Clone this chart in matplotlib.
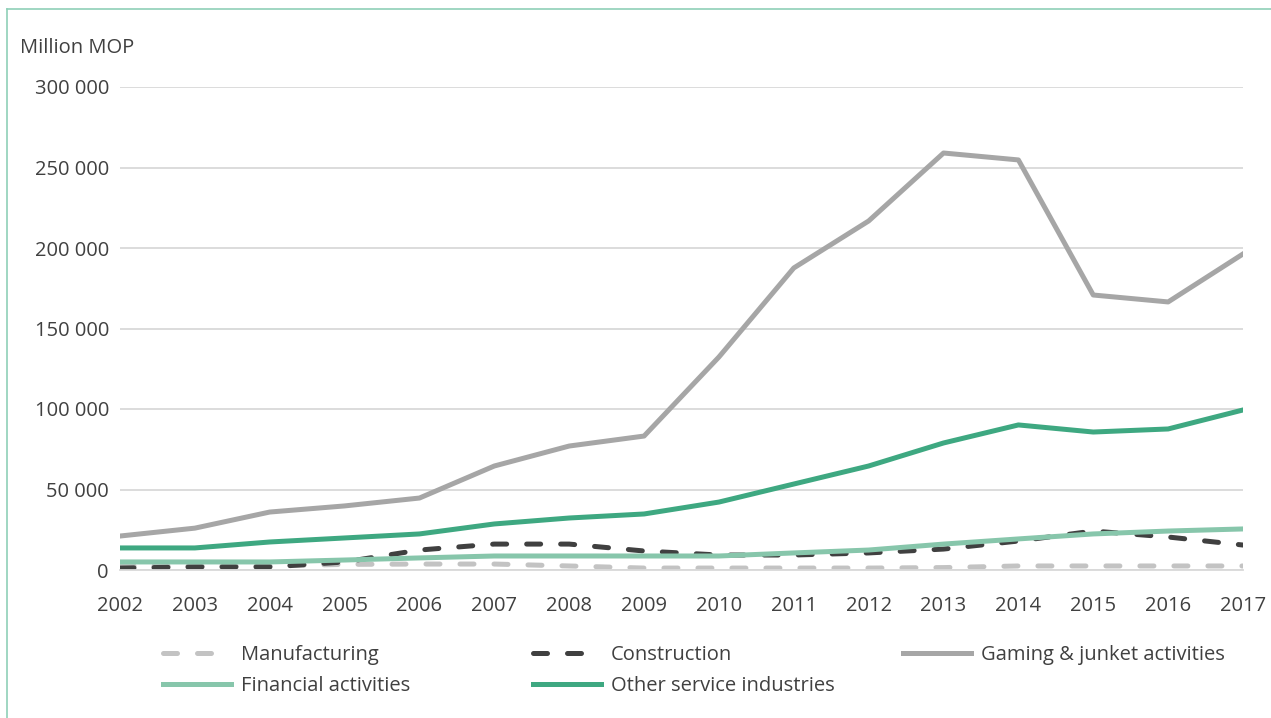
import numpy as np
import matplotlib
matplotlib.use("Agg")
import matplotlib.pyplot as plt
from matplotlib.lines import Line2D
from matplotlib.ticker import FuncFormatter

years = list(range(2002, 2018))

manufacturing = [2500, 2500, 2500, 3500, 3700, 3700, 2500, 1200, 1200, 1200, 1200, 1500, 2500, 2500, 2500, 2500]
construction = [1200, 1900, 1900, 5000, 12400, 16100, 16100, 11800, 9300, 9300, 10600, 13000, 18000, 24200, 20500, 15500]
gaming = [21100, 26000, 36000, 39800, 44700, 64600, 77000, 83200, 132300, 187600, 216800, 259000, 254700, 170800, 166500, 196300]
financial = [5000, 5000, 5000, 6200, 7500, 8700, 8700, 8700, 8700, 10600, 12400, 16100, 19300, 22400, 24200, 25500]
other_services = [13700, 13700, 17400, 19900, 22400, 28600, 32300, 34800, 42200, 53400, 64600, 78900, 90100, 85700, 87600, 99400]

TEXT = "#404040"
FS = 14.5
plt.rcParams["font.family"] = ["Open Sans", "DejaVu Sans"]

fig = plt.figure(figsize=(12.71, 7.18), dpi=100)
ax = fig.add_axes([120 / 1271, 148 / 718, 1123 / 1271, 483 / 718])

lw = 3.6
dash = dict(dashes=(2.8, 4.0), dash_capstyle="round", solid_capstyle="round")
series = [
    ("Manufacturing", manufacturing, "#c3c3c3", dash),
    ("Construction", construction, "#404040", dash),
    ("Gaming & junket activities", gaming, "#a6a6a6", {}),
    ("Financial activities", financial, "#87c6ab", {}),
    ("Other service industries", other_services, "#3ea881", {}),
]
handles = {}
for name, vals, col, extra in series:
    ln, = ax.plot(years, vals, color=col, lw=lw, label=name, **extra)
    handles[name] = ln

ax.set_xlim(2002, 2017)
ax.set_ylim(0, 300000)
ax.set_yticks(np.arange(0, 300001, 50000))
ax.set_xticks(years)
ax.yaxis.set_major_formatter(FuncFormatter(lambda v, p: f"{int(v):,}".replace(",", " ")))
ax.grid(axis="y", color="#d9d9d9", lw=1.3)
ax.set_axisbelow(True)
for s in ["top", "right", "left"]:
    ax.spines[s].set_visible(False)
ax.spines["bottom"].set_color("#d9d9d9")
ax.spines["bottom"].set_linewidth(1.3)
ax.tick_params(length=0, labelsize=FS, colors=TEXT)
ax.tick_params(axis="y", pad=8)
ax.tick_params(axis="x", pad=19)

fig.text(20 / 1271, 1 - 48 / 718, "Million MOP", fontsize=FS, color=TEXT, va="center", ha="left")

# legend, one per column
cols = [
    (["Manufacturing", "Financial activities"], 163),
    (["Construction", "Other service industries"], 533),
    (["Gaming & junket activities"], 903),
]
for names, x0 in cols:
    fig.legend([handles[n] for n in names], names, loc="upper left",
               bbox_to_anchor=(x0 / 1271, 1 - 645 / 718), frameon=False,
               fontsize=FS, labelcolor=TEXT, handlelength=3.4, handletextpad=0.45,
               labelspacing=0.55, borderaxespad=0, borderpad=0)

# thin border at top and left
fig.add_artist(Line2D([7 / 1271, 7 / 1271], [0, 1 - 9 / 718], color="#8fd0b8", lw=1.2))
fig.add_artist(Line2D([7 / 1271, 1], [1 - 9 / 718, 1 - 9 / 718], color="#8fd0b8", lw=1.2))

fig.savefig("out.png", dpi=100)
